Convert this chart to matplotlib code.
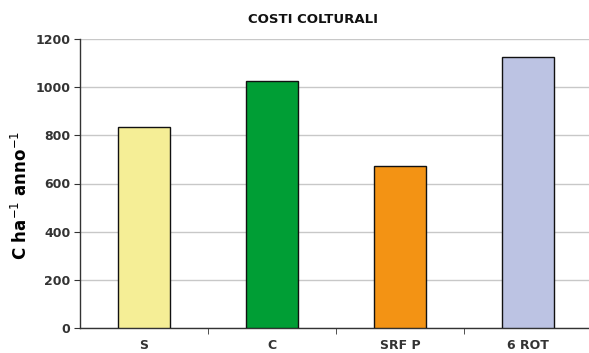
import matplotlib
matplotlib.use("Agg")
import matplotlib.pyplot as plt
import numpy as np

categories = ["S", "C", "SRF P", "6 ROT"]
costs = [833, 1027, 674, 1127]
colors = ["#F5EE96", "#009E35", "#F39314", "#BCC3E3"]
y_ticks = [0, 200, 400, 600, 800, 1000, 1200]

fig = plt.figure(figsize=(5.89, 3.53), dpi=100)
W, H = 589, 353
ax = fig.add_axes([80 / W, 1 - 328 / H, 512 / W, 289 / H])

x = np.arange(len(categories))
ax.bar(x, costs, width=0.40, color=colors, edgecolor="#111111", linewidth=1.0, zorder=3)

ax.set_xlim(-0.5, len(categories) - 0.5)
ax.set_ylim(0, 1200)
ax.set_yticks(y_ticks)
ax.set_yticklabels([str(v) for v in y_ticks], fontsize=9, fontweight="bold", color="#333333")
ax.yaxis.grid(True, color="#C8C8C8", linewidth=1.0, zorder=0)

ax.set_xticks(x)
ax.set_xticklabels(categories, fontsize=9, fontweight="bold", color="#333333")
ax.tick_params(axis="x", which="major", length=0, pad=8)
ax.set_xticks(x[:-1] + 0.5, minor=True)
ax.tick_params(axis="x", which="minor", length=4, direction="out", color="#333333")
ax.tick_params(axis="y", length=4, direction="out", color="#333333", pad=3)

for side in ("top", "right"):
    ax.spines[side].set_visible(False)
for side in ("left", "bottom"):
    ax.spines[side].set_color("#333333")
    ax.spines[side].set_linewidth(1.0)

ax.set_ylabel("C ha$^{-1}$ anno$^{-1}$", fontsize=12, fontweight="bold")
ax.yaxis.set_label_coords(-0.095, 0.46)
fig.text(313 / W, 1 - 19.5 / H, "COSTI COLTURALI", ha="center", va="center",
         fontsize=9.5, fontweight="bold", color="#111111")

fig.savefig("out.png", dpi=100)
